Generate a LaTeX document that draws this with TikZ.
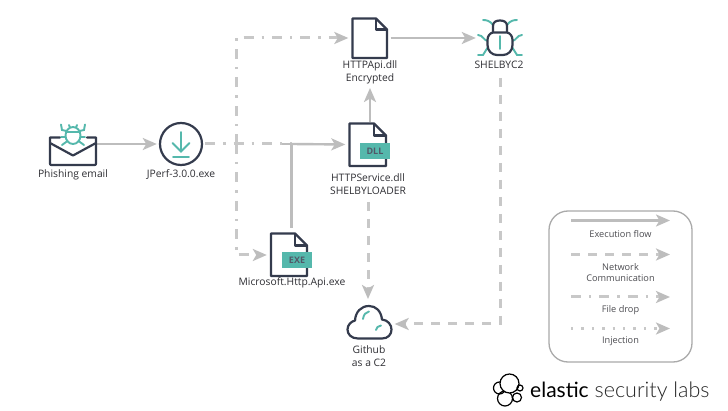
\documentclass[tikz,border=0pt]{standalone}
\usepackage{fontspec}
\setmainfont{Open Sans}
\newfontfamily\logolight{Lato Light}
\newfontfamily\logoreg{Lato}
\usetikzlibrary{arrows.meta}
\definecolor{ink}{HTML}{343B4D}
\definecolor{teal}{HTML}{55B8AC}
\definecolor{flow}{HTML}{BDBDBD}
\definecolor{flowd}{HTML}{C8C8C8}
\definecolor{lbl}{HTML}{2E2E33}
\tikzset{
  x=1pt,y=-1pt,
  lab/.style={font=\fontsize{10.3}{13}\selectfont,text=lbl,align=center,inner sep=0pt},
  leglab/.style={font=\fontsize{9.2}{11}\selectfont,text=lbl!85,align=center,inner sep=0pt},
  conn/.style={draw=flow,line width=2.4pt,-{Stealth[inset=3.5pt,length=14pt,width=12pt]}},
  dconn/.style={draw=flowd,line width=3pt,-{Stealth[inset=3.5pt,length=14pt,width=12pt,flow]}},
  plainconn/.style={draw=flow,line width=2.4pt},
  execflow/.style={conn},
  netflow/.style={dconn,dash pattern=on 9pt off 8pt},
  dropflow/.style={dconn,dash pattern=on 10pt off 8pt on 2.4pt off 8pt},
  dropplain/.style={draw=flowd,line width=3pt,dash pattern=on 10pt off 8pt on 2.4pt off 8pt},
  injflow/.style={dconn,dash pattern=on 2.4pt off 8pt},
  outl/.style={draw=ink,line width=2.2pt,line join=round},
  tl/.style={draw=teal,line width=1.9pt,line cap=round},
  badge/.style={fill=teal,draw=none,text=ink!85,font=\fontsize{9}{10}\selectfont\bfseries,minimum width=30pt,minimum height=16pt,inner sep=0pt},
}
\newcommand{\docshape}[5]{% x1 y1 x2 y2 fold
  \draw[outl,fill=white] (#1,#2) -- (#3-#5,#2) -- (#3,#2+#5) -- (#3,#4) -- (#1,#4) -- cycle;
  \draw[outl] (#3-#5,#2) -- (#3-#5,#2+#5) -- (#3,#2+#5);
}
\begin{document}
\begin{tikzpicture}
\useasboundingbox[fill=white] (0,0) rectangle (728,411);

% anchor nodes of the main items
\node[minimum width=48pt,minimum height=30pt,inner sep=0pt] (mail) at (73,151) {};
\node[circle,minimum size=48pt,inner sep=0pt] (jperf) at (181,144) {};
\node[minimum width=42pt,minimum height=42pt,inner sep=0pt] (httpapi) at (369.5,38) {};
\node[minimum width=48pt,minimum height=38pt,inner sep=0pt] (bug) at (500,38) {};
\node[minimum width=44pt,minimum height=44pt,inner sep=0pt] (dll) at (367.5,144.5) {};
\node[minimum width=44pt,minimum height=44pt,inner sep=0pt] (exe) at (289,255) {};
\node[minimum width=50pt,minimum height=36pt,inner sep=0pt] (cloud) at (369.5,322) {};

% text nodes
\node[lab] (tmail) at (73,175) {Phishing email};
\node[lab] (tjperf) at (181,175) {JPerf-3.0.0.exe};
\node[lab] (thttp) at (370,72) {HTTPApi.dll\\Encrypted};
\node[lab] (tbug) at (499,65) {SHELBYC2};
\node[lab] (tdll) at (368,184.5) {HTTPService.dll\\SHELBYLOADER};
\node[lab] (texe) at (292,283) {Microsoft.Http.Api.exe};
\node[lab] (tcloud) at (369,356.5) {Github\\as a C2};

% connectors
\coordinate (fork) at (236,144);
\coordinate (join) at (291.5,144);
\coordinate (exetop) at (291.5,228);
\coordinate (corner) at (500,324);
\draw[dropplain] (jperf.east) -- (join);
\draw[dropflow] (fork) |- (httpapi.west);
\draw[dropflow] (fork) |- (exe.west);
\draw[plainconn] (exetop) -- (join);
\draw[plainconn] (282,144) -- (join);
\draw[execflow] (join) -- (dll.west);
\draw[execflow] (mail.east |- jperf) -- (jperf.west);
\draw[execflow] (httpapi.east) -- (bug.west);
\draw[execflow] (370,122) -- (370,88);
\draw[netflow] (368,202) -- (368,299);
\draw[netflow] (500,78) -- (corner) -- (cloud.east |- corner);

% envelope
\draw[outl,line cap=round] (60,137.5) -- (50,137.5) -- (50,163) .. controls (50,165) and (50,165) .. (52,165) -- (94,165) .. controls (96,165) and (96,165) .. (96,163) -- (96,137.5) -- (87,137.5);
\draw[outl,line cap=round] (50,143) -- (73,155.5) -- (96,143);
% envelope bug
\draw[tl] (73,135.5) ellipse (7.5pt and 8.5pt);
\draw[tl] (66,132) -- (80,132);
\draw[tl] (66.5,131) -- (62,130) -- (61,124.5) (79.5,131) -- (84,130) -- (85,124.5);
\draw[tl] (65.5,137) -- (61,137) (80.5,137) -- (85,137);
\draw[tl] (67.5,141) -- (62,145) (78.5,141) -- (84,145);
\draw[tl] (69,125) -- (70,127.5) (77,125) -- (76,127.5);
% download circle
\draw[outl] (jperf) circle (21pt);
\draw[tl] (181,132) -- (181,151) (172.5,143) -- (181,151.5) -- (189.5,143);
\draw[tl] (173,157) -- (189,157);

% files
\docshape{352.5}{18.5}{387}{58}{11}
\docshape{349.5}{123.5}{386}{166}{12}
\node[badge] at (375,151) {DLL};
\docshape{271}{233.5}{307}{276}{12}
\node[badge] at (297,260.5) {EXE};

% C2 bug
\draw[tl] (493,25) .. controls (490,21) and (487,20) .. (483,20);
\draw[tl] (507,25) .. controls (510,21) and (513,20) .. (517,20);
\draw[tl] (488,41) .. controls (484,41) and (483,35) .. (478,35);
\draw[tl] (512,41) .. controls (516,41) and (517,35) .. (522,35);
\draw[tl] (488,47) -- (483,55) -- (478,55) (512,47) -- (517,55) -- (522,55);
\draw[outl,fill=white] (493,33) -- (493,26) .. controls (493,22) and (496,20.5) .. (500,20.5) .. controls (504,20.5) and (507,22) .. (507,26) -- (507,33);
\draw[outl,fill=white] (493,32.5) -- (507,32.5) .. controls (510,33) and (512.5,36) .. (512.5,40) -- (512.5,45) .. controls (512.5,51) and (508,55) .. (503,55) -- (497,55) .. controls (492,55) and (487.5,51) .. (487.5,45) -- (487.5,40) .. controls (487.5,36) and (490,33) .. (493,32.5) -- cycle;
\draw[tl] (500,36) -- (500,49);

% cloud
\draw[outl,fill=white] (358,338.5) .. controls (351,338.5) and (347.5,334) .. (347.5,329.5)
 .. controls (347.5,325) and (351,321.5) .. (355,320.5)
 .. controls (355.5,312) and (361,306) .. (369,306)
 .. controls (376,306) and (381,311) .. (382,319.5)
 .. controls (388,320) and (391.5,325) .. (391.5,329.5)
 .. controls (391.5,334.5) and (388,338.5) .. (382,338.5) -- cycle;
\draw[tl] (363,319) .. controls (363.5,314.5) and (366,312) .. (369,311.5);
\draw[tl] (376,330) .. controls (376.5,327.5) and (378,326) .. (381,325.5);

% legend
\node[draw=flow!85!black!90,line width=1.3pt,rounded corners=19pt,minimum width=143pt,minimum height=151pt,inner sep=0pt] (legend) at (620.5,286.5) {};
\coordinate (l1a) at (571,220.5); \coordinate (l1b) at (670,220.5);
\coordinate (l2a) at (571,254.5); \coordinate (l2b) at (670,254.5);
\coordinate (l3a) at (571,297);   \coordinate (l3b) at (670,297);
\coordinate (l4a) at (571,328.5); \coordinate (l4b) at (670,328.5);
\draw[execflow] (l1a) -- (l1b);
\draw[netflow] (l2a) -- (l2b);
\draw[dropflow] (l3a) -- (l3b);
\draw[injflow] (l4a) -- (l4b);
\node[leglab] (lg1) at (620.5,234.5) {Execution flow};
\node[leglab] (lg2) at (620.5,273) {Network\\Communication};
\node[leglab] (lg3) at (620.5,310.5) {File drop};
\node[leglab] (lg4) at (620.5,341.5) {Injection};

% logo
\begin{scope}[draw=black,line width=1.2pt]
\draw (499.5,388) circle (6pt);
\draw (505,398.5) circle (7.5pt);
\draw (517,397.5) circle (4.5pt);
\draw[fill=white] (509.5,383.5) circle (9.5pt);
\draw (520,388) circle (3pt);
\end{scope}
\node[anchor=base west,inner sep=0pt,font=\fontsize{21}{24}\selectfont\logoreg,text=black] (elastic) at (530,397) {elastic};
\node[anchor=base west,inner sep=0pt,font=\fontsize{21.5}{24}\selectfont\logolight,text=black!85] (sec) at (594.5,397) {security labs};
\end{tikzpicture}
\end{document}
